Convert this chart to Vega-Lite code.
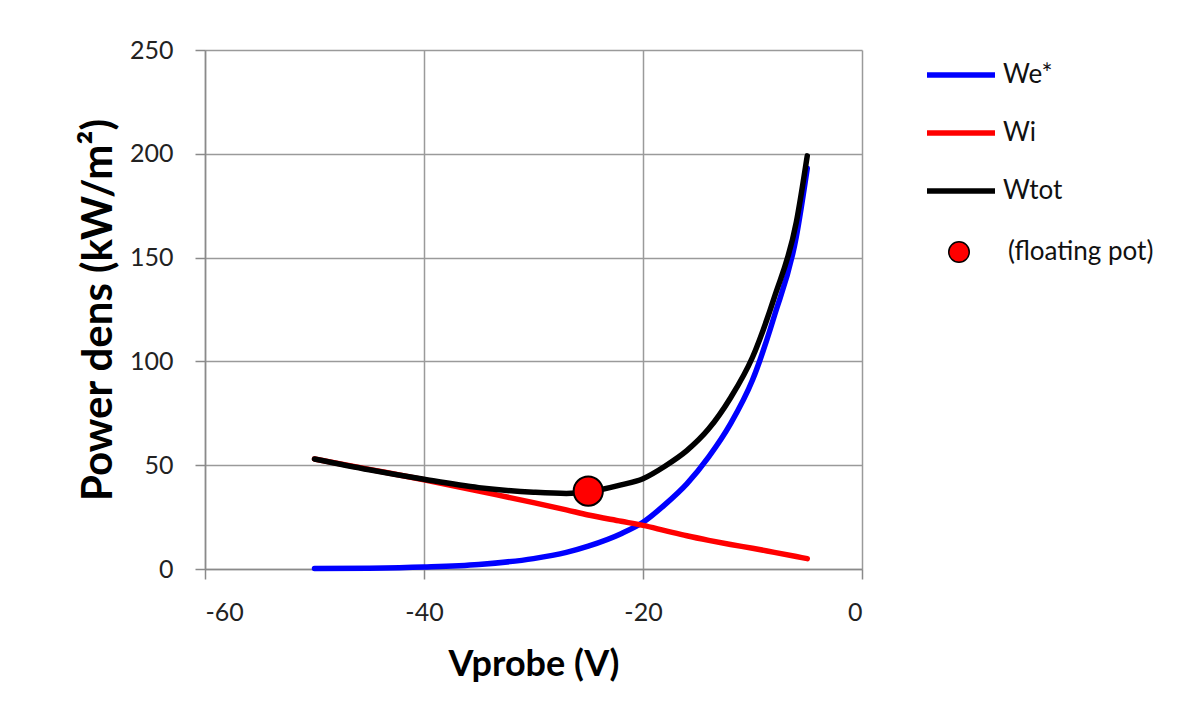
{
  "$schema": "https://vega.github.io/schema/vega-lite/v6.json",
  "autosize": {"type": "none"},
  "padding": {"left": 205, "top": 50, "right": 335, "bottom": 159},
  "width": 657,
  "height": 519,
  "background": "white",
  "config": {
    "font": "Lato",
    "view": {"stroke": null},
    "axis": {
      "gridColor": "#9a9a9a",
      "gridWidth": 1.5,
      "domainColor": "#8a8a8a",
      "domainWidth": 1.5,
      "tickColor": "#8a8a8a",
      "tickWidth": 1.5,
      "tickSize": 10,
      "labelFont": "Lato",
      "labelFontSize": 25,
      "labelColor": "#222222",
      "titleFont": "Lato",
      "titleFontWeight": "bold",
      "titleColor": "#000000"
    }
  },
  "datasets": {
    "curves": [
      {"V": -50, "P": 0.2, "s": "We*"},
      {"V": -45, "P": 0.4, "s": "We*"},
      {"V": -40, "P": 1, "s": "We*"},
      {"V": -35, "P": 2.2, "s": "We*"},
      {"V": -30, "P": 5, "s": "We*"},
      {"V": -27, "P": 8, "s": "We*"},
      {"V": -25, "P": 11, "s": "We*"},
      {"V": -22, "P": 17, "s": "We*"},
      {"V": -20, "P": 22.5, "s": "We*"},
      {"V": -18, "P": 31, "s": "We*"},
      {"V": -16, "P": 41, "s": "We*"},
      {"V": -14, "P": 54, "s": "We*"},
      {"V": -12, "P": 70, "s": "We*"},
      {"V": -10, "P": 91, "s": "We*"},
      {"V": -8, "P": 122, "s": "We*"},
      {"V": -6, "P": 160, "s": "We*"},
      {"V": -5, "P": 193, "s": "We*"},
      {"V": -50, "P": 53, "s": "Wi"},
      {"V": -45, "P": 48, "s": "Wi"},
      {"V": -40, "P": 43, "s": "Wi"},
      {"V": -35, "P": 37.5, "s": "Wi"},
      {"V": -30, "P": 32, "s": "Wi"},
      {"V": -27, "P": 28.5, "s": "Wi"},
      {"V": -25, "P": 26, "s": "Wi"},
      {"V": -22, "P": 23, "s": "Wi"},
      {"V": -20, "P": 21, "s": "Wi"},
      {"V": -18, "P": 18.5, "s": "Wi"},
      {"V": -16, "P": 16, "s": "Wi"},
      {"V": -14, "P": 13.8, "s": "Wi"},
      {"V": -12, "P": 11.8, "s": "Wi"},
      {"V": -10, "P": 10, "s": "Wi"},
      {"V": -8, "P": 8, "s": "Wi"},
      {"V": -6, "P": 6, "s": "Wi"},
      {"V": -5, "P": 5, "s": "Wi"},
      {"V": -50, "P": 53, "s": "Wtot"},
      {"V": -45, "P": 47.8, "s": "Wtot"},
      {"V": -40, "P": 43.2, "s": "Wtot"},
      {"V": -35, "P": 39.2, "s": "Wtot"},
      {"V": -30, "P": 37, "s": "Wtot"},
      {"V": -27, "P": 36.4, "s": "Wtot"},
      {"V": -25, "P": 37.2, "s": "Wtot"},
      {"V": -22, "P": 40.5, "s": "Wtot"},
      {"V": -20, "P": 43.5, "s": "Wtot"},
      {"V": -18, "P": 49.5, "s": "Wtot"},
      {"V": -16, "P": 57, "s": "Wtot"},
      {"V": -14, "P": 67.5, "s": "Wtot"},
      {"V": -12, "P": 82.5, "s": "Wtot"},
      {"V": -10, "P": 102, "s": "Wtot"},
      {"V": -8, "P": 131, "s": "Wtot"},
      {"V": -6, "P": 167, "s": "Wtot"},
      {"V": -5, "P": 199, "s": "Wtot"}
    ],
    "float": [
      {"V": -25, "P": 37.5, "s": "(floating pot)"}
    ]
  },
  "layer": [
    {
      "data": {"name": "curves"},
      "mark": {"type": "line", "strokeWidth": 5.5, "strokeCap": "round", "strokeJoin": "round", "interpolate": "monotone"},
      "encoding": {
        "x": {
          "field": "V", "type": "quantitative",
          "scale": {"domain": [-60, 0], "nice": false, "zero": false},
          "axis": {"values": [-60, -40, -20, 0], "labelExpr": "replace(datum.label, '\u2212', '-')", "title": "Vprobe (V)", "titleFontSize": 36, "titlePadding": 22, "labelPadding": 21, "grid": true}
        },
        "y": {
          "field": "P", "type": "quantitative",
          "scale": {"domain": [0, 250], "nice": false},
          "axis": {"values": [0, 50, 100, 150, 200, 250], "title": "Power dens (kW/m²)", "titleFontSize": 42, "titlePadding": 9, "labelPadding": 22, "grid": true}
        },
        "color": {
          "field": "s", "type": "nominal",
          "scale": {"domain": ["We*", "Wi", "Wtot"], "range": ["#0000ff", "#ff0000", "#000000"]},
          "legend": {
            "title": null,
            "orient": "none",
            "legendX": 719,
            "legendY": -12,
            "padding": 0,
            "symbolType": "stroke",
            "symbolSize": 4624,
            "symbolStrokeWidth": 5.5,
            "labelFontSize": 26,
            "labelFont": "Lato",
            "labelColor": "#111111",
            "labelOffset": 5,
            "rowPadding": 8
          }
        },
        "order": {"field": "V", "type": "quantitative"}
      }
    },
    {
      "data": {"name": "float"},
      "mark": {"type": "point", "filled": true, "size": 855, "stroke": "#000000", "strokeWidth": 2, "opacity": 1},
      "encoding": {
        "x": {"field": "V", "type": "quantitative"},
        "y": {"field": "P", "type": "quantitative"},
        "fill": {
          "field": "s", "type": "nominal",
          "scale": {"range": ["#ff0000"]},
          "legend": {
            "title": null,
            "orient": "none",
            "legendX": 741,
            "legendY": 189,
            "padding": 0,
            "symbolType": "circle",
            "symbolSize": 420,
            "symbolStrokeColor": "#000000",
            "symbolStrokeWidth": 1.5,
            "symbolOpacity": 1,
            "labelFontSize": 26,
            "labelFont": "Lato",
            "labelColor": "#111111",
            "labelOffset": 36
          }
        }
      }
    }
  ]
}
